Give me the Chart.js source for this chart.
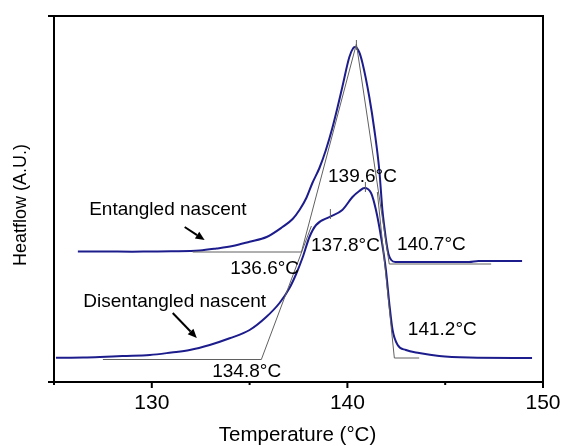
<!DOCTYPE html>
<html><head><meta charset="utf-8">
<script src="https://cdn.jsdelivr.net/npm/chart.js@4"></script>
<style>html,body{margin:0;padding:0;background:#fff;}canvas{display:block;}</style>
</head><body>
<canvas id="c" width="561" height="446"></canvas>
<script>
// ---- data (temperature in °C, heat flow in arbitrary units) ----
const entangledTemp = [126.22,127.5,129.0,129.9,131.0,132.45,133.3,134.13,135.0,135.87,136.68,137.2,137.55,137.9,138.21,138.57,138.9,139.23,139.5,139.74,140.1,140.3,140.41,140.6,140.77,141.12,141.38,141.63,141.79,141.89,141.99,142.1,142.24,142.45,143.67,146.22,146.7,148.93];
const entangledFlow = [130.5,130.5,130.3,130.5,130.7,131.5,133.5,136,140.3,145,155,163,172,184,199,214,232,254,275,295,325,334,335,330,319,285,252,212,172,155,140,128,122,120,120,120,121,121];
const disentangledTemp = [125.1,126.5,127.35,128.5,129.9,131.0,131.94,132.96,133.98,135.0,135.85,136.53,137.04,137.38,137.72,138.06,138.4,139.08,139.74,140.26,140.61,140.87,141.21,141.46,141.72,141.97,142.14,142.31,142.57,142.99,143.67,144.69,146.22,149.44];
const disentangledFlow = [24.3,24.5,25,26,27,29.5,32,37,43.7,52,65,79,94,108,125,145,157,165,172,185,191,194,189,172,145,112,79,52,37,32,29,26,24.5,24];

// construction (onset/offset tangent) lines
const entangledTangentT = [132.09,137.65,140.46,142.14,147.35];
const entangledTangentF = [130,130,338,118,118];
const disLeftTangentT = [127.5,135.6,138.16];
const disLeftTangentF = [22.5,22.5,156];
const disRightTangentT = [141.53,142.40,143.67];
const disRightTangentF = [190,24,24];
// peak markers [temp, low, high]
const peakMarkers = [[140.46,332,342],[139.13,163,173],[140.92,190,200]];

// axis
const xMin = 125, xMax = 150, yMin = 0, yMax = 366;
const xTickValues = [125,130,135,140,145,150];
const xTickLabels = ['','130','','140','','150'];
const xTitle = 'Temperature (°C)';
const yTitle = 'Heatflow (A.U.)';

// annotations [text, temp, flow]
const annotationTexts = ['139.6°C','137.8°C','136.6°C','140.7°C','141.2°C','134.8°C','Entangled nascent','Disentangled nascent'];
const annotationTemps = [140.77,139.90,135.77,144.29,144.85,134.85,130.82,131.17];
const annotationFlows = [205,136,113,137,52,10,172,80];
// arrows [fromT, fromF, toT, toF]
const arrows = [[131.68,155,132.70,142],[131.07,69,132.30,44]];

const pts = (xs, ys) => xs.map((x, i) => ({x, y: ys[i]}));
const FONT = '"Liberation Sans", Arial, Helvetica, sans-serif';
const curveColor = '#1c1c8c';
const grey = '#606060';

const datasets = [
  {data: pts(entangledTangentT, entangledTangentF), borderColor: grey, borderWidth: 1, tension: 0},
  {data: pts(disLeftTangentT, disLeftTangentF), borderColor: grey, borderWidth: 1, tension: 0},
  {data: pts(disRightTangentT, disRightTangentF), borderColor: grey, borderWidth: 1, tension: 0},
  ...peakMarkers.map(m => ({data: [{x: m[0], y: m[1]}, {x: m[0], y: m[2]}], borderColor: grey, borderWidth: 1, tension: 0})),
  {data: pts(entangledTemp, entangledFlow), borderColor: curveColor, borderWidth: 2, cubicInterpolationMode: 'monotone'},
  {data: pts(disentangledTemp, disentangledFlow), borderColor: curveColor, borderWidth: 2, cubicInterpolationMode: 'monotone'}
];

const decor = {
  id: 'decor',
  afterDraw(chart) {
    const {ctx, chartArea: a, scales: {x, y}} = chart;
    ctx.save();
    // frame
    ctx.strokeStyle = '#000';
    ctx.lineWidth = 2;
    ctx.strokeRect(a.left, a.top, a.right - a.left, a.bottom - a.top);
    // x tick marks
    ctx.beginPath();
    xTickValues.forEach((v, i) => {
      const px = x.getPixelForValue(v);
      const len = xTickLabels[i] ? 6 : 3;
      ctx.moveTo(px, a.bottom);
      ctx.lineTo(px, a.bottom + len);
    });
    // y tick marks at ends
    [yMin, yMax].forEach(v => {
      const py = y.getPixelForValue(v);
      ctx.moveTo(a.left, py);
      ctx.lineTo(a.left - 6, py);
    });
    ctx.stroke();
    // titles
    ctx.fillStyle = '#000';
    ctx.textAlign = 'center';
    ctx.textBaseline = 'middle';
    ctx.font = '20.5px ' + FONT;
    ctx.fillText(xTitle, (a.left + a.right) / 2 - 1, 435);
    ctx.save();
    ctx.translate(21, 205);
    ctx.rotate(-Math.PI / 2);
    ctx.font = '18px ' + FONT;
    ctx.fillText(yTitle, 0, 0);
    ctx.restore();
    // annotations
    ctx.font = '19px ' + FONT;
    annotationTexts.forEach((t, i) => {
      ctx.fillText(t, x.getPixelForValue(annotationTemps[i]), y.getPixelForValue(annotationFlows[i]));
    });
    // arrows
    ctx.lineWidth = 2;
    arrows.forEach(ar => {
      const x0 = x.getPixelForValue(ar[0]), y0 = y.getPixelForValue(ar[1]);
      const x1 = x.getPixelForValue(ar[2]), y1 = y.getPixelForValue(ar[3]);
      const ang = Math.atan2(y1 - y0, x1 - x0);
      const hl = 9, hw = 4;
      const bx = x1 - hl * Math.cos(ang), by = y1 - hl * Math.sin(ang);
      ctx.beginPath();
      ctx.moveTo(x0, y0);
      ctx.lineTo(bx, by);
      ctx.stroke();
      ctx.beginPath();
      ctx.moveTo(x1, y1);
      ctx.lineTo(bx + hw * Math.sin(ang), by - hw * Math.cos(ang));
      ctx.lineTo(bx - hw * Math.sin(ang), by + hw * Math.cos(ang));
      ctx.closePath();
      ctx.fill();
    });
    ctx.restore();
  }
};

new Chart(document.getElementById('c'), {
  type: 'scatter',
  data: {datasets},
  options: {
    responsive: false,
    animation: false,
    devicePixelRatio: 1,
    showLine: true,
    layout: {padding: {top: 16, right: 18, left: 0, bottom: 0}},
    elements: {point: {radius: 0, hoverRadius: 0}, line: {fill: false}},
    plugins: {legend: {display: false}, tooltip: {enabled: false}},
    scales: {
      x: {
        type: 'linear', min: xMin, max: xMax,
        afterBuildTicks: s => { s.ticks = xTickValues.map(v => ({value: v})); },
        afterFit: s => { s.height = 64; s.paddingLeft = 0; s.paddingRight = 0; },
        grid: {display: true, drawOnChartArea: false, drawTicks: true, tickLength: 6, color: 'rgba(0,0,0,0)'},
        border: {display: false},
        ticks: {
          autoSkip: false, maxRotation: 0, padding: 3, color: '#000',
          font: {family: FONT, size: 21},
          callback: v => { const i = xTickValues.indexOf(v); return i >= 0 ? xTickLabels[i] : ''; }
        }
      },
      y: {
        type: 'linear', min: yMin, max: yMax,
        afterFit: s => { s.width = 54; },
        grid: {display: false},
        border: {display: false},
        ticks: {display: false}
      }
    }
  },
  plugins: [decor]
});
</script>
</body></html>
